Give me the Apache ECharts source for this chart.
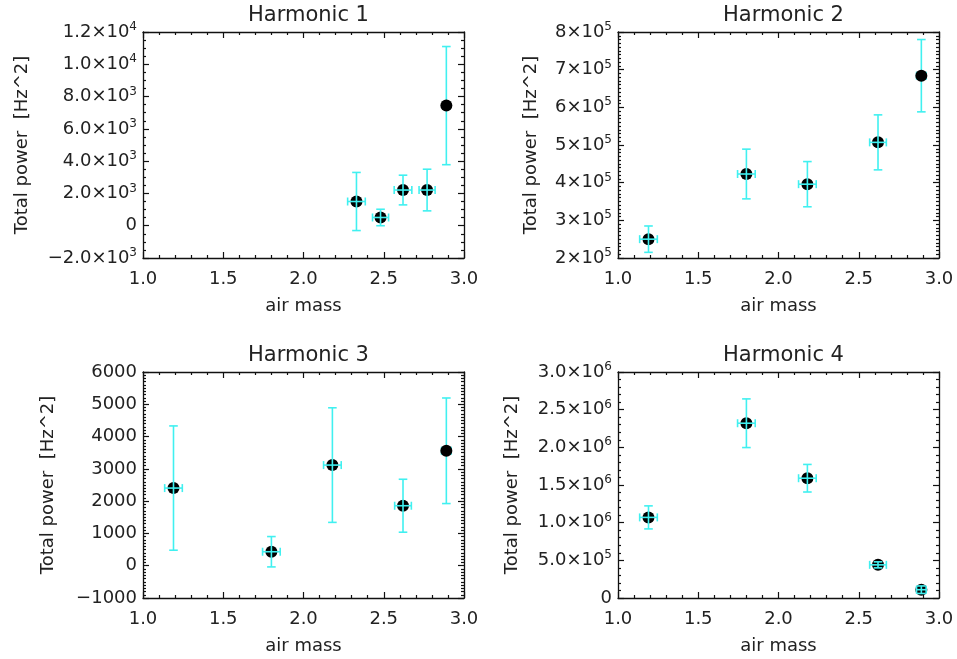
<!DOCTYPE html>
<html>
<head>
<meta charset="utf-8">
<script src="https://cdn.jsdelivr.net/npm/echarts@6/dist/echarts.min.js"></script>
<style>
html,body{margin:0;padding:0;background:#fff;}
#c{width:957px;height:659px;}
</style>
</head>
<body>
<div id="c"></div>
<script>
// ---- data ----
const titles = ['Harmonic 1', 'Harmonic 2', 'Harmonic 3', 'Harmonic 4'];
const airmass1 = [2.33, 2.48, 2.62, 2.77, 2.89];
const airmassErr1 = [0.055, 0.05, 0.055, 0.05, 0.02];
const airmass = [1.19, 1.80, 2.18, 2.62, 2.89];
const airmassErr = [0.055, 0.055, 0.055, 0.052, 0.03];
const power1 = [1500, 510, 2210, 2210, 7440];
const powerErr1 = [1800, 510, 920, 1290, 3660];
const power2 = [250000, 423000, 396000, 507000, 684000];
const powerErr2 = [35000, 66000, 60000, 73000, 96000];
const power3 = [2405, 433, 3117, 1858, 3560];
const powerErr3 = [1925, 470, 1775, 820, 1635];
const power4 = [1070000, 2320000, 1590000, 440000, 110000];
const powerErr4 = [153000, 323000, 183000, 40000, 50000];
const xTicks = ['1.0', '1.5', '2.0', '2.5', '3.0'];
const yTicks1 = ['\u22122.0\u00d710^3', '0', '2.0\u00d710^3', '4.0\u00d710^3', '6.0\u00d710^3', '8.0\u00d710^3', '1.0\u00d710^4', '1.2\u00d710^4'];
const yTicks2 = ['2\u00d710^5', '3\u00d710^5', '4\u00d710^5', '5\u00d710^5', '6\u00d710^5', '7\u00d710^5', '8\u00d710^5'];
const yTicks3 = ['\u22121000', '0', '1000', '2000', '3000', '4000', '5000', '6000'];
const yTicks4 = ['0', '5.0\u00d710^5', '1.0\u00d710^6', '1.5\u00d710^6', '2.0\u00d710^6', '2.5\u00d710^6', '3.0\u00d710^6'];
const xTitle = 'air mass';
const yTitle = 'Total power  [Hz^2]';

// ---- layout / style ----
const FONT = 'DejaVu Sans';
const TXT = '#222';
const panels = [
  {x: airmass1, ex: airmassErr1, y: power1, ey: powerErr1, ticks: yTicks1, min: -2000, max: 12000, interval: 2000, minor: 4, left: 143, top: 32, nameGap: 112, lastBelow: true},
  {x: airmass, ex: airmassErr, y: power2, ey: powerErr2, ticks: yTicks2, min: 200000, max: 800000, interval: 100000, minor: 10, left: 618, top: 32, nameGap: 78, lastBelow: true},
  {x: airmass, ex: airmassErr, y: power3, ey: powerErr3, ticks: yTicks3, min: -1000, max: 6000, interval: 1000, minor: 10, left: 143, top: 372, nameGap: 86, lastBelow: true},
  {x: airmass, ex: airmassErr, y: power4, ey: powerErr4, ticks: yTicks4, min: 0, max: 3000000, interval: 500000, minor: 5, left: 618, top: 372, nameGap: 97, lastBelow: false}
];
const W = 321, H = 226;

function richLabel(s) {
  return s.replace(/10\^(\d+)/, '10{sup|$1}');
}

const grid = [], xAxis = [], yAxis = [], series = [], title = [];
const axisLine = {show: true, onZero: false, lineStyle: {color: '#111', width: 1.3}};
const tickStyle = {color: '#111', width: 1.2};

panels.forEach((p, k) => {
  grid.push({left: p.left, top: p.top, width: W, height: H, containLabel: false});
  title.push({
    text: titles[k], left: p.left + W / 2, top: p.top - 32, textAlign: 'center',
    textStyle: {fontFamily: FONT, fontSize: 21, fontWeight: 'normal', color: TXT}
  });
  // bottom x
  xAxis.push({
    type: 'value', gridIndex: k, position: 'bottom', min: 1, max: 3, interval: 0.5,
    axisLine, splitLine: {show: false},
    axisTick: {show: true, inside: true, length: 6, lineStyle: tickStyle},
    minorTick: {show: true, splitNumber: 5, length: 3, lineStyle: tickStyle},
    axisLabel: {show: true, margin: 12, fontFamily: FONT, fontSize: 18, color: TXT,
      formatter: (v, i) => xTicks[i]},
    name: xTitle, nameLocation: 'middle', nameGap: 39,
    nameTextStyle: {fontFamily: FONT, fontSize: 18, color: TXT}
  });
  // top x
  xAxis.push({
    type: 'value', gridIndex: k, position: 'top', min: 1, max: 3, interval: 0.5,
    axisLine, splitLine: {show: false},
    axisTick: {show: true, inside: true, length: 6, lineStyle: tickStyle},
    minorTick: {show: true, splitNumber: 5, length: 3, lineStyle: tickStyle},
    axisLabel: {show: false}
  });
  const rich = {sup: {fontFamily: FONT, fontSize: 12, color: TXT, verticalAlign: 'top', padding: [0, 0, 10, 0]}};
  yAxis.push({
    type: 'value', gridIndex: k, position: 'left', min: p.min, max: p.max, interval: p.interval,
    axisLine, splitLine: {show: false},
    axisTick: {show: true, inside: true, length: 6, lineStyle: tickStyle},
    minorTick: {show: true, splitNumber: p.minor, length: 3, lineStyle: tickStyle},
    axisLabel: {show: true, margin: 6, fontFamily: FONT, fontSize: 18, color: TXT,
      formatter: (v, i) => richLabel(p.ticks[i]), rich},
    name: yTitle, nameLocation: 'middle', nameGap: p.nameGap,
    nameTextStyle: {fontFamily: FONT, fontSize: 18, color: TXT}
  });
  yAxis.push({
    type: 'value', gridIndex: k, position: 'right', min: p.min, max: p.max, interval: p.interval,
    axisLine, splitLine: {show: false},
    axisTick: {show: true, inside: true, length: 6, lineStyle: tickStyle},
    minorTick: {show: true, splitNumber: p.minor, length: 3, lineStyle: tickStyle},
    axisLabel: {show: false}
  });
  const pts = p.x.map((xv, i) => [xv, p.y[i], p.ex[i], p.ey[i]]);
  const errRender = function (params, api) {
    const x = api.value(0), y = api.value(1), ex = api.value(2), ey = api.value(3);
    const t = api.coord([x, y + ey]), b = api.coord([x, y - ey]);
    const l = api.coord([x - ex, y]), r = api.coord([x + ex, y]);
    const st = {stroke: '#40f0f0', lineWidth: 1.6};
    const cw = 4.3, ch = 4;
    const seg = (x1, y1, x2, y2) => ({type: 'line', shape: {x1, y1, x2, y2}, style: st});
    return {type: 'group', children: [
      seg(t[0], t[1], b[0], b[1]),
      seg(t[0] - cw, t[1], t[0] + cw, t[1]),
      seg(b[0] - cw, b[1], b[0] + cw, b[1]),
      seg(l[0], l[1], r[0], r[1]),
      seg(l[0], l[1] - ch, l[0], l[1] + ch),
      seg(r[0], r[1] - ch, r[0], r[1] + ch)
    ]};
  };
  const n = pts.length;
  const topPts = p.lastBelow ? pts.slice(0, n - 1) : pts;
  const belowPts = p.lastBelow ? pts.slice(n - 1) : [];
  series.push({type: 'custom', xAxisIndex: 2 * k, yAxisIndex: 2 * k, data: belowPts, renderItem: errRender, z: 1, silent: true});
  series.push({type: 'scatter', xAxisIndex: 2 * k, yAxisIndex: 2 * k, data: pts.map(d => [d[0], d[1]]),
    symbol: 'circle', symbolSize: 12, itemStyle: {color: '#000', opacity: 1}, z: 2, silent: true});
  series.push({type: 'custom', xAxisIndex: 2 * k, yAxisIndex: 2 * k, data: topPts, renderItem: errRender, z: 3, silent: true});
});

const chart = echarts.init(document.getElementById('c'), null, {renderer: 'canvas'});
chart.setOption({animation: false, backgroundColor: '#fff', title, grid, xAxis, yAxis, series});
</script>
</body>
</html>
